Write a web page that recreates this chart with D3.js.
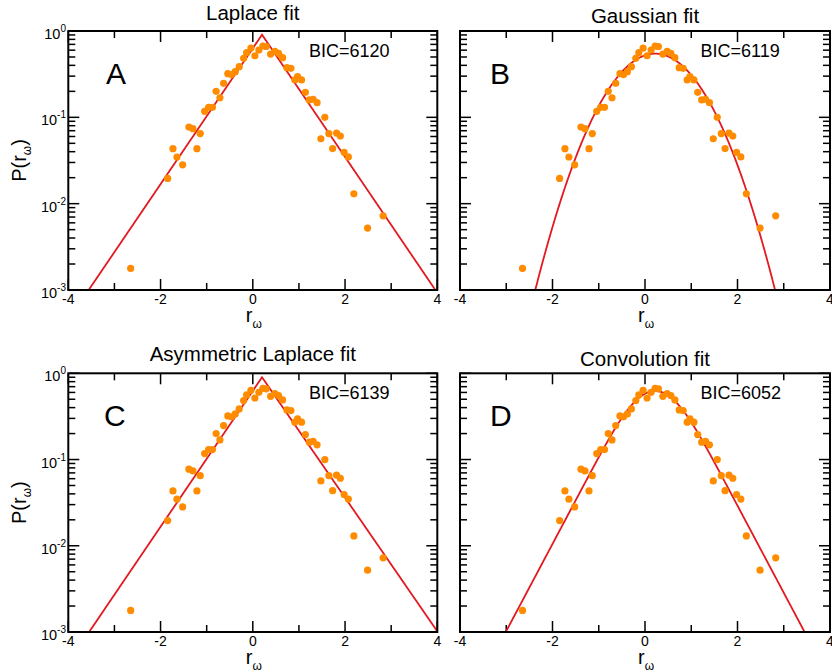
<!DOCTYPE html>
<html><head><meta charset="utf-8">
<script src="https://cdn.jsdelivr.net/npm/d3@7"></script>
<style>
body{margin:0;background:#fff}
svg{display:block}
text{font-family:"Liberation Sans",Arial,Helvetica,sans-serif;fill:#000}
</style>
</head><body>
<svg id="chart" width="832" height="672"></svg>
<script>
// ---------- data ----------
const rValues = [-2.648, -1.846, -1.731, -1.645, -1.521, -1.385, -1.298, -1.211, -1.140, -1.044,
  -0.958, -0.875, -0.795, -0.713, -0.633, -0.542, -0.464, -0.381, -0.295, -0.199,
  -0.134, -0.041, 0.045, 0.132, 0.219, 0.290, 0.386, 0.479, 0.559, 0.646,
  0.739, 0.826, 0.912, 0.971, 1.057, 1.140, 1.226, 1.309, 1.393, 1.476,
  1.562, 1.649, 1.731, 1.816, 1.898, 1.980, 2.072, 2.191, 2.488, 2.826];
const pValues = [0.00178, 0.0196, 0.0433, 0.0347, 0.0282, 0.0772, 0.0738, 0.0433, 0.0649, 0.1173,
  0.1305, 0.1305, 0.200, 0.1687, 0.2478, 0.320, 0.313, 0.338, 0.386, 0.483,
  0.561, 0.635, 0.517, 0.602, 0.670, 0.661, 0.541, 0.582, 0.552, 0.491,
  0.376, 0.370, 0.271, 0.297, 0.271, 0.195, 0.159, 0.162, 0.148, 0.0565,
  0.100, 0.0649, 0.0435, 0.0658, 0.0607, 0.0393, 0.0348, 0.0130, 0.00521, 0.00724];

const panelTitles = ["Laplace fit", "Gaussian fit", "Asymmetric Laplace fit", "Convolution fit"];
const panelLetters = ["A", "B", "C", "D"];
const bicValues = [6120, 6119, 6139, 6052];
const xTicks = [-4, -3, -2, -1, 0, 1, 2, 3, 4];
const xTickLabels = ["-4", "-2", "0", "2", "4"];
const yDecadeExponents = [0, -1, -2, -3];
const yTickLabelExponents = ["0", "-1", "-2", "-3"];

// fit parameters
const laplaceFit = {mu: 0.2, b: 0.552};
const gaussFit = {mu: 0.22, sigma: 0.73};
const asymLaplaceFit = {mu: 0.2, lambda: 1.80, kappa: 0.992};
const convFit = {mu: 0.22, b: 0.43, sigma: 0.41};

// ---------- model functions ----------
function laplacePdf(x) { const p = laplaceFit; return Math.exp(-Math.abs(x - p.mu) / p.b) / (2 * p.b); }
function gaussPdf(x) { const p = gaussFit; return Math.exp(-((x - p.mu) ** 2) / (2 * p.sigma ** 2)) / (p.sigma * Math.sqrt(2 * Math.PI)); }
function asymLaplacePdf(x) {
  const p = asymLaplaceFit, d = x - p.mu;
  const norm = p.lambda / (p.kappa + 1 / p.kappa);
  return d >= 0 ? norm * Math.exp(-p.lambda * p.kappa * d) : norm * Math.exp(p.lambda / p.kappa * d);
}
function expTimesErfc(a, z) {
  if (z < 0) return 2 * Math.exp(a) - expTimesErfc(a, -z);
  const t = 1 / (1 + 0.3275911 * z);
  const poly = t * (0.254829592 + t * (-0.284496736 + t * (1.421413741 + t * (-1.453152027 + t * 1.061405429))));
  return poly * Math.exp(a - z * z);
}
function convPdf(x) {
  const p = convFit, d = x - p.mu, s = p.sigma, b = p.b;
  const base = s * s / (2 * b * b);
  const sq = s * Math.SQRT2;
  return (expTimesErfc(base - d / b, (s * s / b - d) / sq) + expTimesErfc(base + d / b, (s * s / b + d) / sq)) / (4 * b);
}
const fitFunctions = [laplacePdf, gaussPdf, asymLaplacePdf, convPdf];

// ---------- layout ----------
const panels = [
  {x0: 68.3, x1: 437.3, y0: 31, y1: 290, titleY: 19.5, letterX: 106, letterY: 84, bicX: 309, bicY: 57.3, yLabels: true},
  {x0: 460, x1: 830, y0: 31, y1: 290, titleY: 22.5, letterX: 490, letterY: 83.5, bicX: 700.5, bicY: 57.3, yLabels: false},
  {x0: 68.3, x1: 437.3, y0: 373.3, y1: 632, titleY: 361, letterX: 104, letterY: 425.5, bicX: 309, bicY: 399, yLabels: true},
  {x0: 460, x1: 830, y0: 373.3, y1: 632, titleY: 366, letterX: 490, letterY: 425.5, bicX: 700.5, bicY: 399, yLabels: false}
];

const svg = d3.select("#chart");
const curveColor = "#e2191f";
const dotColor = "#ff8c00";

panels.forEach((pn, i) => {
  const x = d3.scaleLinear().domain([-4, 4]).range([pn.x0, pn.x1]);
  const y = d3.scaleLog().domain([1e-3, 1]).range([pn.y1, pn.y0]);
  const g = svg.append("g");

  const clipId = "clip" + i;
  svg.append("clipPath").attr("id", clipId).append("rect")
    .attr("x", pn.x0).attr("y", pn.y0).attr("width", pn.x1 - pn.x0).attr("height", pn.y1 - pn.y0);

  // ticks: x (bottom & top), inside
  xTicks.forEach(t => {
    const major = (t % 2 === 0);
    const len = major ? 11 : 7;
    const xp = x(t);
    g.append("line").attr("x1", xp).attr("x2", xp).attr("y1", pn.y1).attr("y2", pn.y1 - len)
      .attr("stroke", "#000").attr("stroke-width", 1.5);
    g.append("line").attr("x1", xp).attr("x2", xp).attr("y1", pn.y0).attr("y2", pn.y0 + len)
      .attr("stroke", "#000").attr("stroke-width", 1.5);
  });
  // ticks: y (left & right), decades + log minor ticks
  yDecadeExponents.forEach(e => {
    [1, 2, 3, 4, 5, 6, 7, 8, 9].forEach(m => {
      const val = m === 1 ? Math.pow(10, e) : Math.pow(10, e - 1) * m;
      if (val < 1e-3 || val > 1) return;
      const len = m === 1 ? 11 : 7;
      const yp = y(val);
      g.append("line").attr("x1", pn.x0).attr("x2", pn.x0 + len).attr("y1", yp).attr("y2", yp)
        .attr("stroke", "#000").attr("stroke-width", 1.5);
      g.append("line").attr("x1", pn.x1).attr("x2", pn.x1 - len).attr("y1", yp).attr("y2", yp)
        .attr("stroke", "#000").attr("stroke-width", 1.5);
    });
  });

  // fit curve
  const xs = d3.range(-4, 4.0001, 0.01);
  const f = fitFunctions[i];
  const line = d3.line().x(d => x(d)).y(d => y(Math.max(f(d), 1e-12)));
  g.append("path").datum(xs).attr("d", line).attr("fill", "none")
    .attr("stroke", curveColor).attr("stroke-width", 1.8).attr("clip-path", `url(#${clipId})`);

  // data points
  g.append("g").selectAll("circle").data(rValues.map((r, k) => [r, pValues[k]])).join("circle")
    .attr("cx", d => x(d[0])).attr("cy", d => y(d[1])).attr("r", 3.6).attr("fill", dotColor);

  // frame
  g.append("rect").attr("x", pn.x0).attr("y", pn.y0).attr("width", pn.x1 - pn.x0).attr("height", pn.y1 - pn.y0)
    .attr("fill", "none").attr("stroke", "#000").attr("stroke-width", 2);

  // x tick labels
  xTickLabels.forEach(lbl => {
    g.append("text").attr("x", x(+lbl)).attr("y", pn.y1 + 14).attr("text-anchor", "middle")
      .attr("font-size", 14).text(lbl);
  });
  // y tick labels
  if (pn.yLabels) {
    yDecadeExponents.forEach((e, k) => {
      const t = g.append("text").attr("x", 66).attr("y", y(Math.pow(10, e)) + 8)
        .attr("text-anchor", "end").attr("font-size", 14.5);
      t.append("tspan").text("10");
      t.append("tspan").attr("dy", -7).attr("font-size", 10).text(yTickLabelExponents[k]);
    });
    const yc = (pn.y0 + pn.y1) / 2;
    const yt = g.append("text").attr("transform", `translate(26,${yc}) rotate(-90)`)
      .attr("text-anchor", "middle").attr("font-size", 20);
    yt.append("tspan").text("P(r");
    yt.append("tspan").attr("dy", 5).attr("font-size", 12).text("ω");
    yt.append("tspan").attr("dy", -5).text(")");
  }
  // x axis title
  const xt = g.append("text").attr("x", (pn.x0 + pn.x1) / 2 + 1).attr("y", pn.y1 + 31.5)
    .attr("text-anchor", "middle").attr("font-size", 20);
  xt.append("tspan").text("r");
  xt.append("tspan").attr("dy", 6).attr("font-size", 12).text("ω");

  // title
  g.append("text").attr("x", (pn.x0 + pn.x1) / 2).attr("y", pn.titleY).attr("text-anchor", "middle")
    .attr("font-size", 20.5).text(panelTitles[i]);
  // panel letter
  g.append("text").attr("x", pn.letterX).attr("y", pn.letterY).attr("font-size", 30).text(panelLetters[i]);
  // BIC
  g.append("text").attr("x", pn.bicX).attr("y", pn.bicY).attr("font-size", 18).text("BIC=" + bicValues[i]);
});
</script>
</body></html>
